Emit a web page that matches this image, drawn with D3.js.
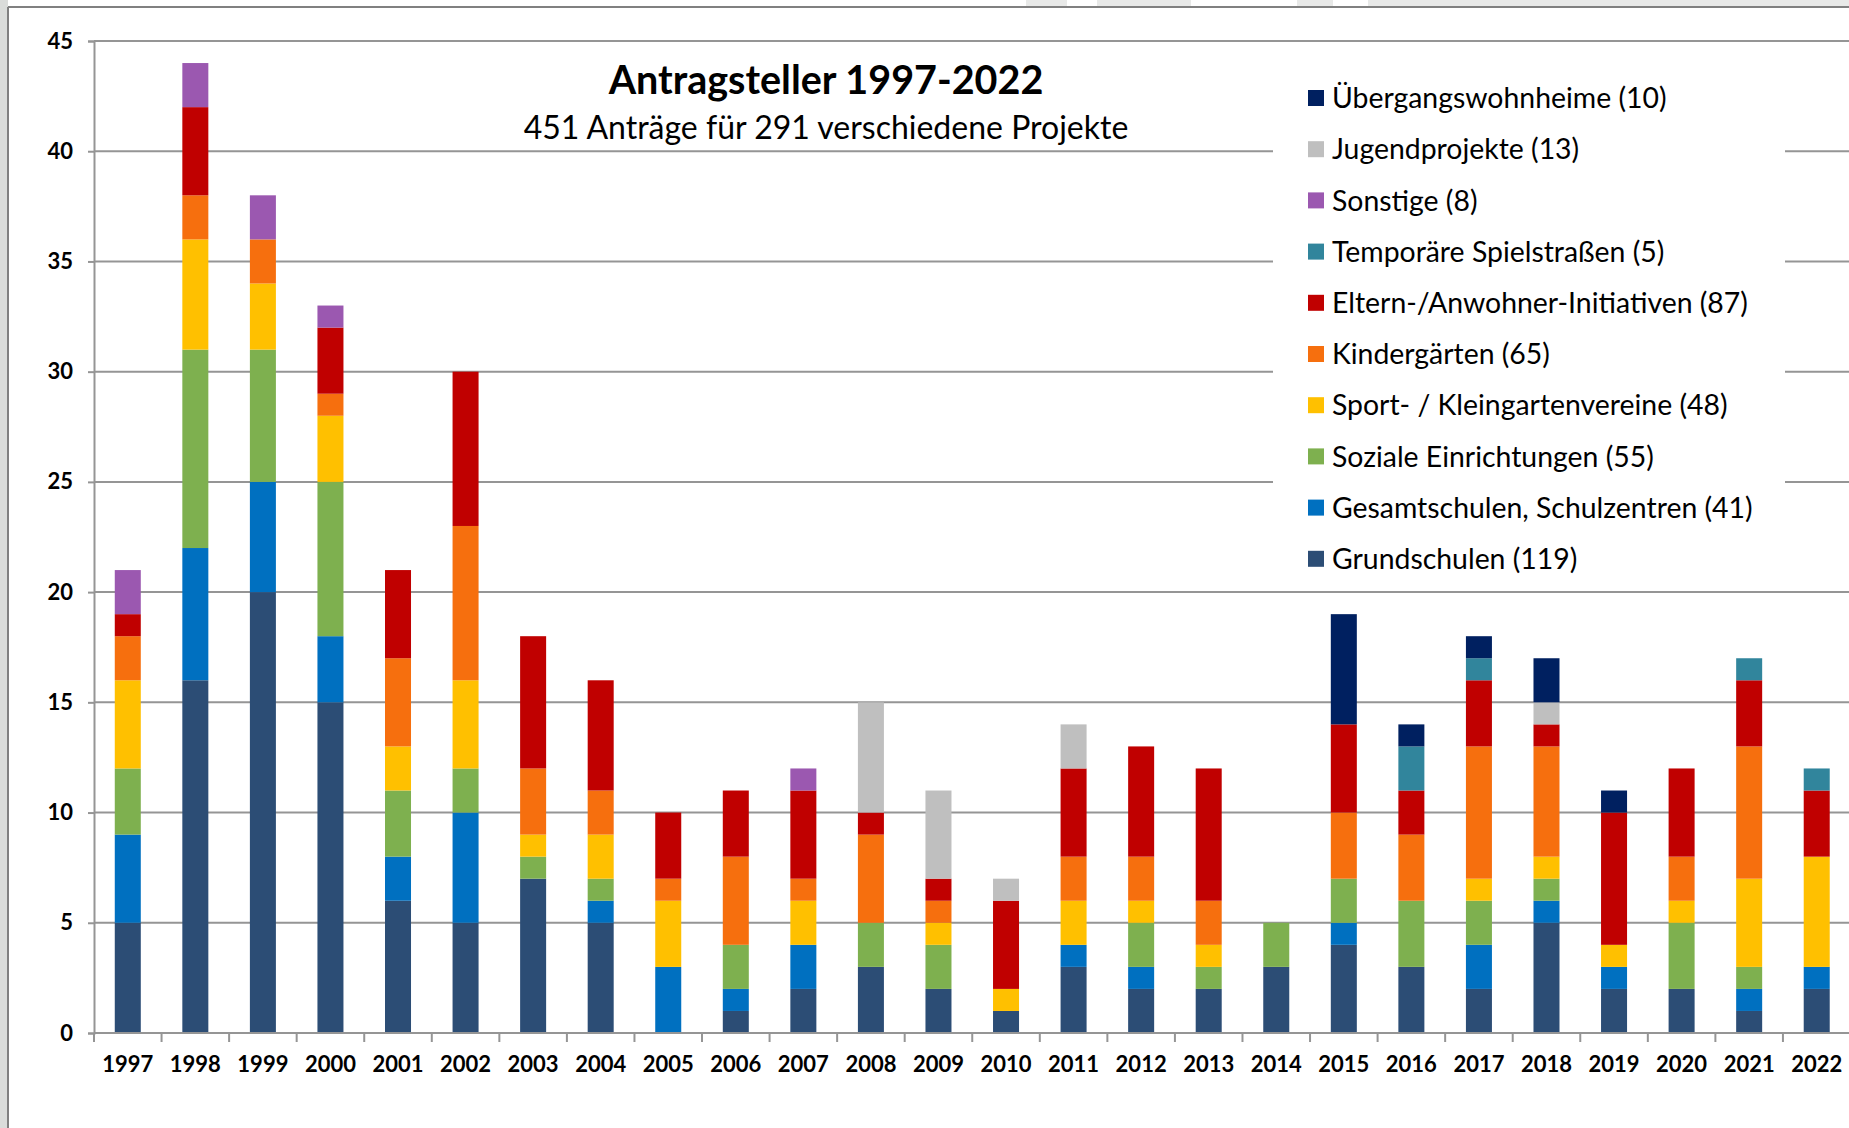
<!DOCTYPE html>
<html><head><meta charset="utf-8">
<script src="https://cdn.jsdelivr.net/npm/d3@7"></script>
<style>
body{margin:0;background:#fff}
svg{display:block}
text{font-family:Lato,"Open Sans",sans-serif;fill:#000}
</style>
</head><body>
<svg id="chart" width="1849" height="1128"></svg>
<script>
// ---------- data ----------
const years = ["1997","1998","1999","2000","2001","2002","2003","2004","2005","2006","2007","2008","2009","2010","2011","2012","2013","2014","2015","2016","2017","2018","2019","2020","2021","2022"];
const grundschulen         = [5,16,20,15,6,5,7,5,0,1,2,3,2,1,3,2,2,3,4,3,2,5,2,2,1,2];
const gesamtschulen        = [4,6,5,3,2,5,0,1,3,1,2,0,0,0,1,1,0,0,1,0,2,1,1,0,1,1];
const sozialeEinrichtungen = [3,9,6,7,3,2,1,1,0,2,0,2,2,0,0,2,1,2,2,3,2,1,0,3,1,0];
const sportVereine         = [4,5,3,3,2,4,1,2,3,0,2,0,1,1,2,1,1,0,0,0,1,1,1,1,4,5];
const kindergaerten        = [2,2,2,1,4,7,3,2,1,4,1,4,1,0,2,2,2,0,3,3,6,5,0,2,6,0];
const elternInitiativen    = [1,4,0,3,4,7,6,5,3,3,4,1,1,4,4,5,6,0,4,2,3,1,6,4,3,3];
const spielstrassen        = [0,0,0,0,0,0,0,0,0,0,0,0,0,0,0,0,0,0,0,2,1,0,0,0,1,1];
const sonstige             = [2,2,2,1,0,0,0,0,0,0,1,0,0,0,0,0,0,0,0,0,0,0,0,0,0,0];
const jugendprojekte       = [0,0,0,0,0,0,0,0,0,0,0,5,4,1,2,0,0,0,0,0,0,1,0,0,0,0];
const uebergangswohnheime  = [0,0,0,0,0,0,0,0,0,0,0,0,0,0,0,0,0,0,5,1,1,2,1,0,0,0];

// stacking order, bottom to top
const seriesKeys   = ["grund","gesamt","sozial","sport","kinder","eltern","spiel","sonst","jugend","ueber"];
const seriesValues = [grundschulen,gesamtschulen,sozialeEinrichtungen,sportVereine,kindergaerten,elternInitiativen,spielstrassen,sonstige,jugendprojekte,uebergangswohnheime];
const seriesLabels = ["Grundschulen (119)","Gesamtschulen, Schulzentren (41)","Soziale Einrichtungen (55)","Sport- / Kleingartenvereine (48)","Kindergärten (65)","Eltern-/Anwohner-Initiativen (87)","Temporäre Spielstraßen (5)","Sonstige (8)","Jugendprojekte (13)","Übergangswohnheime (10)"];
const seriesColors = ["#2C4D75","#0070C0","#7EB04F","#FFC000","#F66F0E","#C00000","#31859C","#9B58B0","#BFBFBF","#002060"];
const yTicks = [0,5,10,15,20,25,30,35,40,45];
const titleText = "Antragsteller 1997-2022";
const subtitleText = "451 Anträge für 291 verschiedene Projekte";

// ---------- build table ----------
const table = years.map((yr,i)=>{
  const row = {year:yr};
  seriesKeys.forEach((k,j)=>row[k]=seriesValues[j][i]);
  return row;
});
const stacked = d3.stack().keys(seriesKeys)(table);

const svg = d3.select("#chart");
const W = 1849, H = 1128;
const plotL = 94, plotR = 1850.5, plotT = 41, plotB = 1033;
const gridColor = "#959595";

// background decoration (faint watermark outside frame)
svg.append("rect").attr("x",0).attr("y",0).attr("width",W).attr("height",H).attr("fill","#fff");
svg.append("rect").attr("x",0).attr("y",0).attr("width",8).attr("height",H).attr("fill","#dadcda");
[[1026,1067],[1097,1191],[1297,1333],[1368,1849]].forEach(([a,b])=>{
  svg.append("rect").attr("x",a).attr("y",0).attr("width",b-a).attr("height",7).attr("fill","#e8e9e8");
});
// frame
svg.append("line").attr("x1",8).attr("x2",W).attr("y1",7).attr("y2",7).attr("stroke","#808080").attr("stroke-width",2);
svg.append("line").attr("x1",8).attr("x2",8).attr("y1",7).attr("y2",H).attr("stroke","#808080").attr("stroke-width",2);

// scales
const x = d3.scaleBand().domain(years).range([plotL, plotR]).paddingInner(0.615).paddingOuter(0.3075);
const y = d3.scaleLinear().domain([0,45]).range([plotB, plotT]);

// gridlines
svg.append("g").selectAll("line").data(yTicks.filter(t=>t>0)).join("line")
  .attr("x1",plotL).attr("x2",W).attr("y1",d=>y(d)).attr("y2",d=>y(d))
  .attr("stroke",gridColor).attr("stroke-width",2);

// bars
svg.append("g").selectAll("g").data(stacked).join("g")
  .attr("fill",(d,i)=>seriesColors[i])
  .selectAll("rect").data(d=>d.filter(s=>s[1]>s[0])).join("rect")
  .attr("x",d=>x(d.data.year)).attr("width",x.bandwidth())
  .attr("y",d=>y(d[1])).attr("height",d=>y(d[0])-y(d[1]));

// y axis
const yAxis = svg.append("g").attr("transform",`translate(${plotL},0)`)
  .call(d3.axisLeft(y).tickValues(yTicks).tickSize(6).tickPadding(15));
yAxis.select(".domain").attr("stroke",gridColor).attr("stroke-width",2);
yAxis.selectAll(".tick line").attr("stroke",gridColor).attr("stroke-width",2);
yAxis.selectAll("text").attr("font-size",22).attr("font-weight",700).attr("font-family","Lato").attr("fill","#000");

// x axis (ticks between categories)
const step = x.step();
svg.append("line").attr("x1",plotL).attr("x2",W).attr("y1",plotB).attr("y2",plotB).attr("stroke",gridColor).attr("stroke-width",2);
svg.append("g").selectAll("line").data(d3.range(years.length+1)).join("line")
  .attr("x1",i=>plotL+i*step).attr("x2",i=>plotL+i*step)
  .attr("y1",plotB).attr("y2",plotB+9).attr("stroke",gridColor).attr("stroke-width",2);
svg.append("g").selectAll("text").data(years).join("text")
  .attr("x",d=>x(d)+x.bandwidth()/2).attr("y",1072)
  .attr("text-anchor","middle").attr("font-size",22).attr("font-weight",700).text(d=>d);

// title
svg.append("text").attr("x",826).attr("y",94).attr("text-anchor","middle")
  .attr("font-size",39.5).attr("font-weight",700).text(titleText);
svg.append("text").attr("x",826).attr("y",139).attr("text-anchor","middle")
  .attr("font-size",32).text(subtitleText);

// legend
svg.append("rect").attr("x",1273).attr("y",55).attr("width",512).attr("height",531).attr("fill","#fff");
const legendOrder = d3.range(seriesKeys.length).reverse();
const lg = svg.append("g").selectAll("g").data(legendOrder).join("g")
  .attr("transform",(d,i)=>`translate(1308,${98+i*51.2})`);
lg.append("rect").attr("x",0).attr("y",-8).attr("width",16).attr("height",16).attr("fill",d=>seriesColors[d]);
lg.append("text").attr("x",24).attr("y",0).attr("dy","0.36em").attr("font-size",28.4).text(d=>seriesLabels[d]);
</script>
</body></html>
